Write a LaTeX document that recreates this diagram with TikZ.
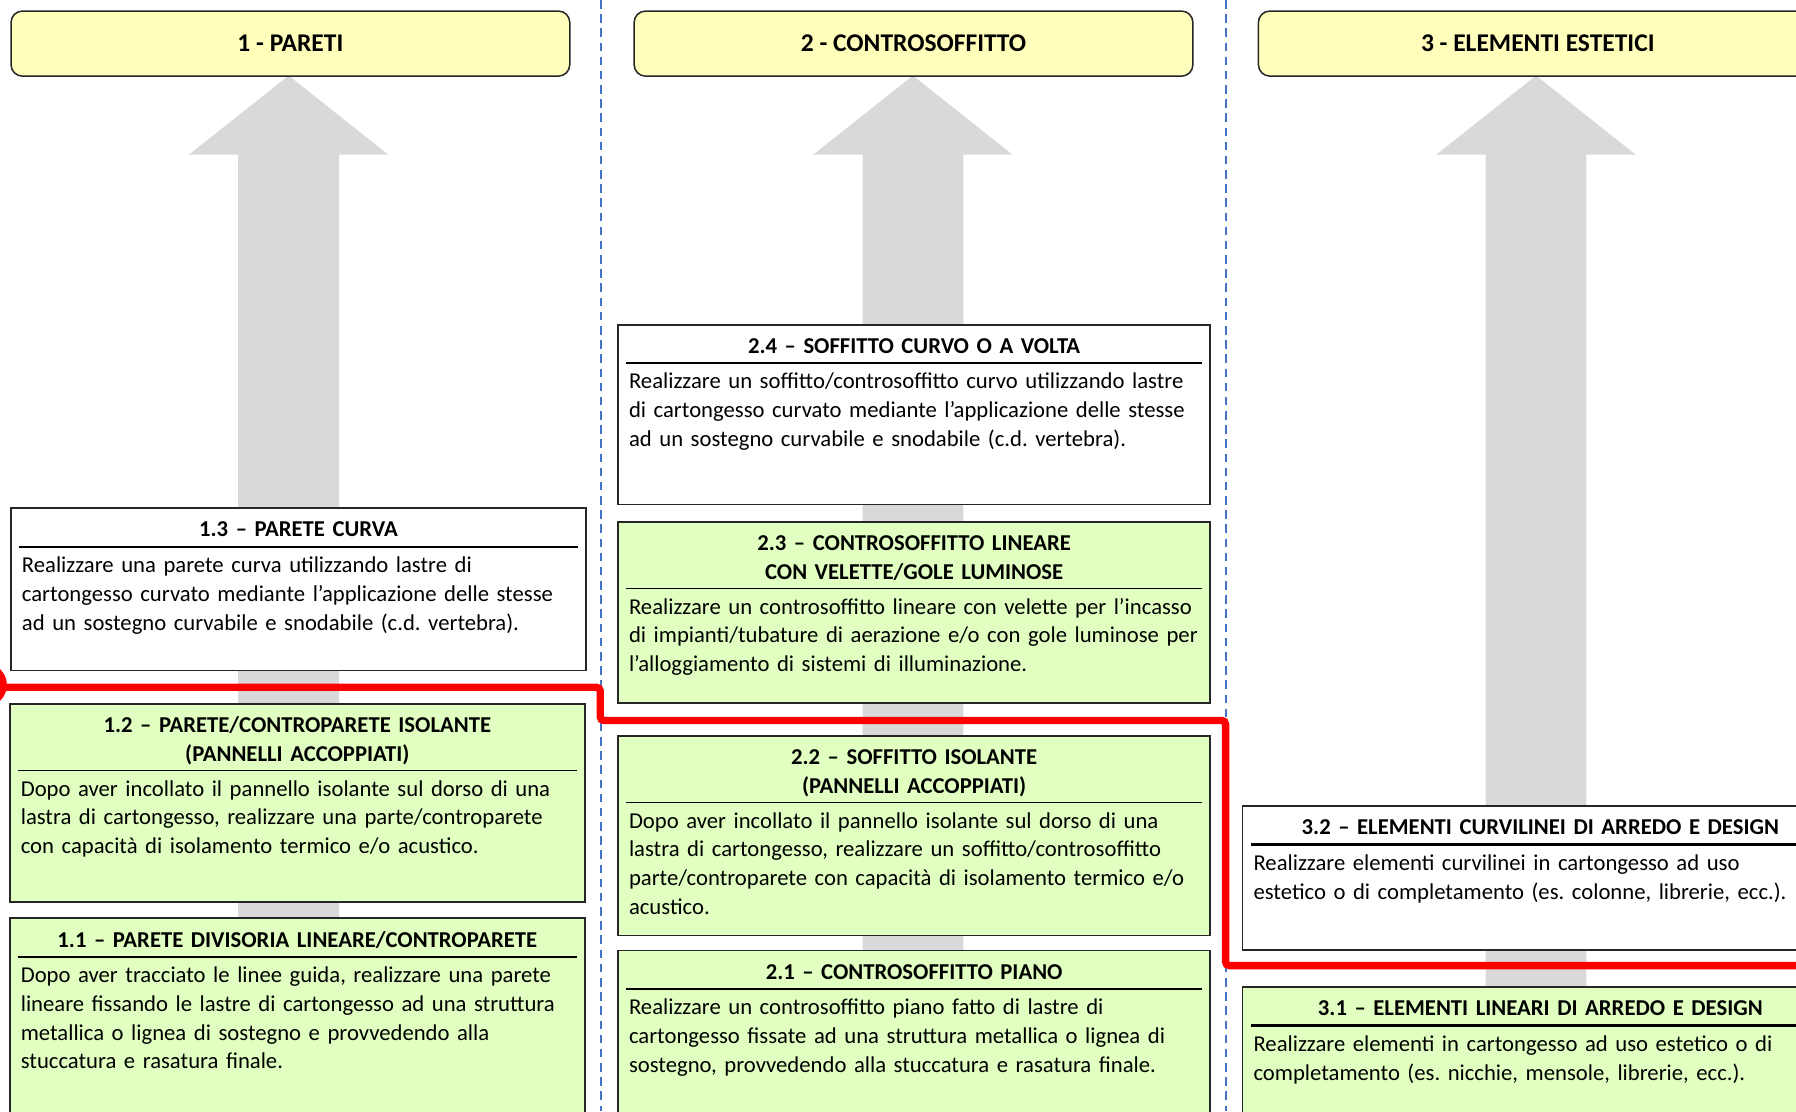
\documentclass[tikz,border=0pt]{standalone}
\usepackage{fontspec}
\setmainfont{Carlito}
\usepackage{tikz}
\usetikzlibrary{positioning}

\definecolor{headyellow}{HTML}{FFFFBB}
\definecolor{cardgreen}{HTML}{E0FFC0}
\definecolor{arrowgray}{HTML}{D9D9D9}
\definecolor{sepblue}{HTML}{4472C4}
\definecolor{pathred}{HTML}{FF0000}

% title, rule, description
\newcommand{\cardtext}[3]{\frenchspacing{\centering\bfseries\strut #2\strut\par}\hrule height #1\vspace{2.6pt}{\raggedright\leftskip=1.5pt\strut #3\par}}

\tikzset{
  header/.style={draw=black!85, line width=0.8pt, rounded corners=6pt, fill=headyellow,
    anchor=north west, minimum width=10.39cm, minimum height=1.21cm,
    font=\bfseries\fontsize{13.5}{16}\selectfont},
  card/.style={draw=black!85, line width=0.8pt, anchor=north west, inner sep=0pt},
  col1/.style={minimum width=10.69cm},
  col2/.style={minimum width=11.01cm},
  col3/.style={minimum width=11.08cm},
  cardin/.style={inner sep=0pt, font=\fontsize{12}{15.15}\selectfont},
  sepline/.style={sepblue, line width=1pt, dash pattern=on 4.5pt off 3pt},
  redpath/.style={pathred, line width=3.9pt, rounded corners=2pt},
}

\begin{document}
\begin{tikzpicture}[x=0.0213cm, y=-0.0213cm]
	\useasboundingbox (0,0) rectangle (1568,970);
	\clip (0,0) rectangle (1568,970);

	% grey arrows behind the columns
	\foreach \c in {252,797,1341}
	\fill[arrowgray] (\c,66) -- (\c+87,135) -- (\c+44,135) -- (\c+44,990)
		-- (\c-44,990) -- (\c-44,135) -- (\c-87,135) -- cycle;

	\draw[sepline] (525,0) -- (525,970);
	\draw[sepline] (1070,0) -- (1070,970);

	\node[header] (h1) at (9,9) {1 - PARETI};
	\node[header] (h2) at (553,9) {2 - CONTROSOFFITTO};
	\node[header] (h3) at (1098,9) {3 - ELEMENTI ESTETICI};

	% column 1
	\node[card, col1, fill=white, minimum height=3.02cm] (c13) at (9,443) {};
	\node[cardin, text width=10.39cm, below=0.17cm of c13.north] (t13)
		{\cardtext{1.2pt}{1.3 – PARETE CURVA}{Realizzare una parete curva utilizzando lastre di\\
		cartongesso curvato mediante l’applicazione delle stesse\\
		ad un sostegno curvabile e snodabile (c.d. vertebra).}};

	\node[card, col1, fill=cardgreen, minimum height=3.68cm] (c12) at (8,614) {};
	\node[cardin, text width=10.39cm, below=0.17cm of c12.north] (t12)
		{\cardtext{0.6pt}{1.2 – PARETE/CONTROPARETE ISOLANTE\\(PANNELLI ACCOPPIATI)}{Dopo aver incollato il pannello isolante sul dorso di una\\
		lastra di cartongesso, realizzare una parte/controparete\\
		con capacità di isolamento termico e/o acustico.}};

	\node[card, col1, fill=cardgreen, minimum height=4.26cm] (c11) at (8,801) {};
	\node[cardin, text width=10.39cm, below=0.17cm of c11.north] (t11)
		{\cardtext{1.2pt}{1.1 – PARETE DIVISORIA LINEARE/CONTROPARETE}{Dopo aver tracciato le linee guida, realizzare una parete\\
		lineare fissando le lastre di cartongesso ad una struttura\\
		metallica o lignea di sostegno e provvedendo alla\\
		stuccatura e rasatura finale.}};

	% column 2
	\node[card, col2, fill=white, minimum height=3.34cm] (c24) at (539,283) {};
	\node[cardin, text width=10.71cm, below=0.17cm of c24.north] (t24)
		{\cardtext{0.8pt}{2.4 – SOFFITTO CURVO O A VOLTA}{Realizzare un soffitto/controsoffitto curvo utilizzando lastre\\
		di cartongesso curvato mediante l’applicazione delle stesse\\
		ad un sostegno curvabile e snodabile (c.d. vertebra).}};

	\node[card, col2, fill=cardgreen, minimum height=3.37cm] (c23) at (539,455) {};
	\node[cardin, text width=10.71cm, below=0.17cm of c23.north] (t23)
		{\cardtext{0.6pt}{2.3 – CONTROSOFFITTO LINEARE\\CON VELETTE/GOLE LUMINOSE}{Realizzare un controsoffitto lineare con velette per l’incasso\\
		di impianti/tubature di aerazione e/o con gole luminose per\\
		l’alloggiamento di sistemi di illuminazione.}};

	\node[card, col2, fill=cardgreen, minimum height=3.71cm] (c22) at (539,642) {};
	\node[cardin, text width=10.71cm, below=0.17cm of c22.north] (t22)
		{\cardtext{0.6pt}{2.2 – SOFFITTO ISOLANTE\\(PANNELLI ACCOPPIATI)}{Dopo aver incollato il pannello isolante sul dorso di una\\
		lastra di cartongesso, realizzare un soffitto/controsoffitto\\
		parte/controparete con capacità di isolamento termico e/o\\
		acustico.}};

	\node[card, col2, fill=cardgreen, minimum height=4.26cm] (c21) at (539,829) {};
	\node[cardin, text width=10.71cm, below=0.17cm of c21.north] (t21)
		{\cardtext{1.2pt}{2.1 – CONTROSOFFITTO PIANO}{Realizzare un controsoffitto piano fatto di lastre di\\
		cartongesso fissate ad una struttura metallica o lignea di\\
		sostegno, provvedendo alla stuccatura e rasatura finale.}};

	% column 3
	\node[card, col3, fill=white, minimum height=2.68cm] (c32) at (1084,703) {};
	\node[cardin, text width=10.77cm, below=0.17cm of c32.north] (t32)
		{\cardtext{1.2pt}{3.2 – ELEMENTI CURVILINEI DI ARREDO E DESIGN}{Realizzare elementi curvilinei in cartongesso ad uso\\
		estetico o di completamento (es. colonne, librerie, ecc.).}};

	\node[card, col3, fill=cardgreen, minimum height=4.26cm] (c31) at (1084,861) {};
	\node[cardin, text width=10.77cm, below=0.17cm of c31.north] (t31)
		{\cardtext{1.2pt}{3.1 – ELEMENTI LINEARI DI ARREDO E DESIGN}{Realizzare elementi in cartongesso ad uso estetico o di\\
		completamento (es. nicchie, mensole, librerie, ecc.).}};

	% red line
	\fill[pathred] (-13,598) circle (0.405cm);
	\draw[redpath] (0,600) -- (524,600) -- (524,629) -- (1070,629) -- (1070,843) -- (1600,843);
\end{tikzpicture}
\end{document}
